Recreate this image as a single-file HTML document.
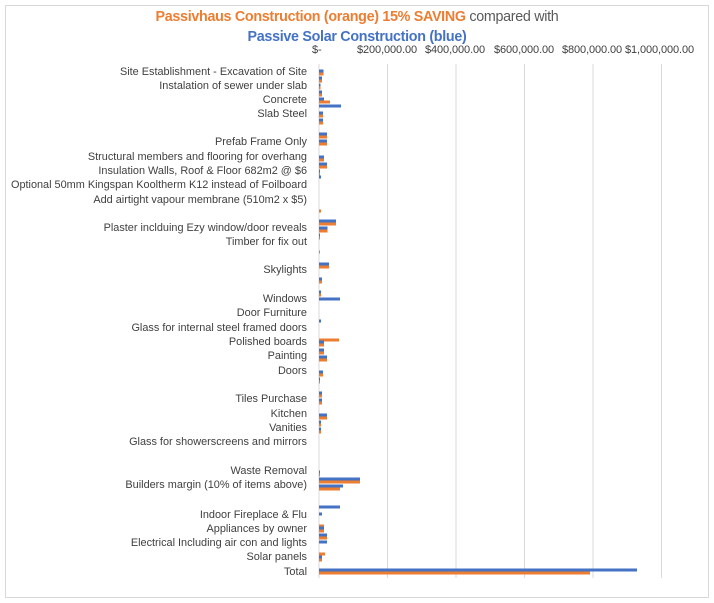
<!DOCTYPE html>
<html><head><style>
body{margin:0;background:#fff;}
#c{position:relative;width:714px;height:603px;overflow:hidden;font-family:"Liberation Sans",sans-serif;}
.t{position:absolute;left:0;width:714px;text-align:center;font-size:14.3px;font-weight:bold;letter-spacing:-0.3px}
.l{position:absolute;right:407px;font-size:10.9px;color:#404040;white-space:nowrap;letter-spacing:0;line-height:12px}
.a{position:absolute;top:44px;font-size:11px;color:#404040;letter-spacing:-0.1px;white-space:nowrap}
</style></head><body><div id="c">
<svg width="714" height="603" style="position:absolute;left:0;top:0">
<rect x="5.5" y="5.5" width="703" height="592" fill="none" stroke="#d9d9d9"/>
<g stroke="#d9d9d9" stroke-width="1">
<line x1="319" y1="64" x2="319" y2="578"/><line x1="387.5" y1="64" x2="387.5" y2="578"/><line x1="456" y1="64" x2="456" y2="578"/><line x1="524.5" y1="64" x2="524.5" y2="578"/><line x1="593" y1="64" x2="593" y2="578"/><line x1="661.5" y1="64" x2="661.5" y2="578"/>
</g>
<g id="bars"></g>
</svg>
<div class="t" style="top:9px"><span style="color:#ed7d31">Passivhaus Construction (orange) 15% SAVING</span> <span style="color:#595959;font-weight:normal">compared with</span></div>
<div class="t" style="top:29px;color:#4472c4">Passive Solar Construction (blue)</div>
<div class="a" style="left:312px">$-</div>
<div class="a" style="left:357px">$200,000.00</div>
<div class="a" style="left:425px">$400,000.00</div>
<div class="a" style="left:494px">$600,000.00</div>
<div class="a" style="left:562px">$800,000.00</div>
<div class="a" style="left:625px">$1,000,000.00</div>
<div class="l" style="top:66px">Site Establishment - Excavation of Site</div>
<div class="l" style="top:80px">Instalation of sewer under slab</div>
<div class="l" style="top:94px">Concrete</div>
<div class="l" style="top:108px">Slab Steel</div>
<div class="l" style="top:136px">Prefab Frame Only</div>
<div class="l" style="top:151px">Structural members and flooring for overhang</div>
<div class="l" style="top:165px">Insulation Walls, Roof &amp; Floor 682m2 @ $6</div>
<div class="l" style="top:179px">Optional 50mm Kingspan Kooltherm K12 instead of Foilboard</div>
<div class="l" style="top:194px">Add airtight vapour membrane (510m2 x $5)</div>
<div class="l" style="top:222px">Plaster inclduing Ezy window/door reveals</div>
<div class="l" style="top:236px">Timber for fix out</div>
<div class="l" style="top:264px">Skylights</div>
<div class="l" style="top:293px">Windows</div>
<div class="l" style="top:307px">Door Furniture</div>
<div class="l" style="top:322px">Glass for internal steel framed doors</div>
<div class="l" style="top:336px">Polished boards</div>
<div class="l" style="top:350px">Painting</div>
<div class="l" style="top:365px">Doors</div>
<div class="l" style="top:393px">Tiles Purchase</div>
<div class="l" style="top:408px">Kitchen</div>
<div class="l" style="top:422px">Vanities</div>
<div class="l" style="top:436px">Glass for showerscreens and mirrors</div>
<div class="l" style="top:465px">Waste Removal</div>
<div class="l" style="top:479px">Builders margin (10% of items above)</div>
<div class="l" style="top:509px">Indoor Fireplace &amp; Flu</div>
<div class="l" style="top:523px">Appliances by owner</div>
<div class="l" style="top:537px">Electrical Including air con and lights</div>
<div class="l" style="top:551px">Solar panels</div>
<div class="l" style="top:566px">Total</div>
</div>
<script>
var d=[[70,4.5,4.5],[77,3,3],[84,1.5,1.5],[91,3,3],[98,5,11],[105,22,0],[112,4,4],[119,4,4],[133,8,8],[140,8,8],[156,5,5],[163,8,8],[170,1,1],[176,2,0],[207,0,2],[220,17,17],[227,8.5,8.5],[234,1,1],[248,0,1],[263,10,10],[278,3,3],[291,2,2],[298,21,0],[320,2,0],[336,0,20],[341,5,5],[349,5,5],[356,8,8],[371,4,4],[378,1,1],[392,3,3],[399,3,3],[414,8,8],[421,2,2],[428,2,2],[471,1,1],[478,41,41],[485,24,21],[506,21,0],[513,3,0],[522,0,5],[527,5,5],[534,8,8],[541,8,0],[550,0,6],[556,3,3],[569,318,271]];
var g=document.getElementById('bars'),h='';
d.forEach(function(r){if(r[1])h+='<rect x="319" y="'+(r[0]-0.5)+'" width="'+r[1]+'" height="3" fill="#4472c4"/>';if(r[2])h+='<rect x="319" y="'+(r[0]+2.5)+'" width="'+r[2]+'" height="3" fill="#ed7d31"/>';});
g.innerHTML=h;
</script>
</body></html>
